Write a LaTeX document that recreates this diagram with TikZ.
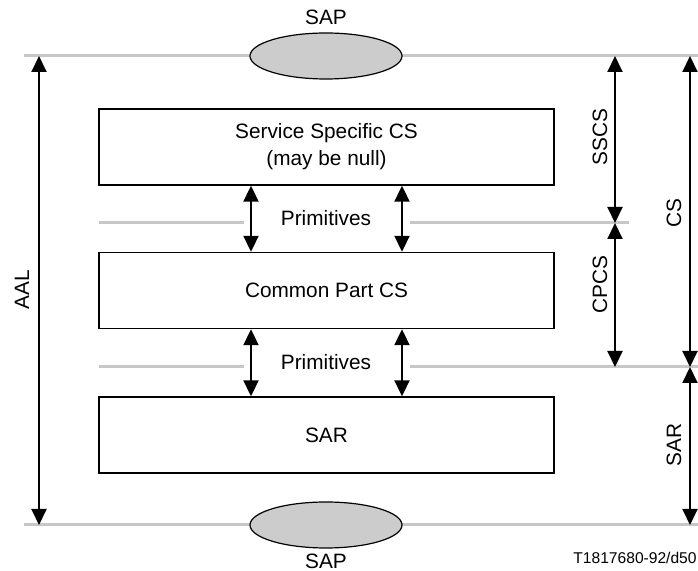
\documentclass[tikz,border=0pt]{standalone}
\usepackage{fontspec}
\setmainfont{Liberation Sans}
\usetikzlibrary{arrows.meta,shapes.geometric}

\begin{document}
\begin{tikzpicture}
          [x=0.5pt,y=-0.5pt,
          every node/.style={font=\fontsize{10.4}{13.5}\selectfont},
          layer/.style={rectangle,draw=black,line width=0.7pt,fill=white,minimum width=227.5pt,minimum height=38pt,align=center,inner sep=0pt},
          sap/.style={ellipse,draw=black,line width=0.6pt,fill=black!20,minimum width=76pt,minimum height=23pt,inner sep=0pt},
          boundary/.style={draw=black!22,line width=1.5pt},
          span/.style={{Triangle[width=7.5pt,length=8pt]}-{Triangle[width=7.5pt,length=8pt]},line width=1pt}]
          \useasboundingbox (0,0) rectangle (698,571);
          % boundaries
          \draw[boundary] (24,56) -- (698,56);
          \draw[boundary] (24,525) -- (698,525);
          \draw[boundary] (99,223) -- (244,223);
          \draw[boundary] (410,223) -- (629,223);
          \draw[boundary] (99,367) -- (244,367);
          \draw[boundary] (410,367) -- (698,367);
          % access points
          \node[sap] (sapTop) at (326,56) {};
          \node[sap] (sapBot) at (326,525) {};
          \node (sapTopLbl) at (326,17) {SAP};
          \node (sapBotLbl) at (326,561) {SAP};
          % sublayers
          \node[layer] (sscs) at (326.5,147) {Service Specific CS\\(may be null)};
          \node[layer] (cpcs) at (326.5,290.5) {Common Part CS};
          \node[layer] (sar)  at (326.5,435) {SAR};
          \coordinate (colA) at (251,0);
          \coordinate (colB) at (402,0);
          \draw[span] (sscs.south -| colA) -- (cpcs.north -| colA);
          \draw[span] (sscs.south -| colB) -- (cpcs.north -| colB);
          \draw[span] (cpcs.south -| colA) -- (sar.north -| colA);
          \draw[span] (cpcs.south -| colB) -- (sar.north -| colB);
          \node (primUp) at (326,218) {Primitives};
          \node (primLo) at (326,362) {Primitives};
          % extents
          \coordinate (aalTop) at (39,56);
          \coordinate (aalBot) at (39,525);
          \coordinate (sscsTop) at (615,56);
          \coordinate (sscsBot) at (615,223);
          \coordinate (cpcsBot) at (615,367);
          \coordinate (csTop) at (690,56);
          \coordinate (csBot) at (690,367);
          \coordinate (sarBot) at (690,525);
          \draw[span] (aalTop) -- (aalBot);
          \draw[span] (sscsTop) -- (sscsBot);
          \draw[span] (sscsBot) -- (cpcsBot);
          \draw[span] (csTop) -- (csBot);
          \draw[span] (csBot) -- (sarBot);
          \node[rotate=90] (aalLbl) at (22,290) {AAL};
          \node[rotate=90] (sscsLbl) at (600,137) {SSCS};
          \node[rotate=90] (cpcsLbl) at (600,285) {CPCS};
          \node[rotate=90] (csLbl) at (674,213) {CS};
          \node[rotate=90] (sarLbl) at (674,445) {SAR};
          \node[anchor=east,font=\fontsize{7.8}{9}\selectfont,inner sep=0pt] (figId) at (697,558) {T1817680-92/d50};
        \end{tikzpicture}
\end{document}
